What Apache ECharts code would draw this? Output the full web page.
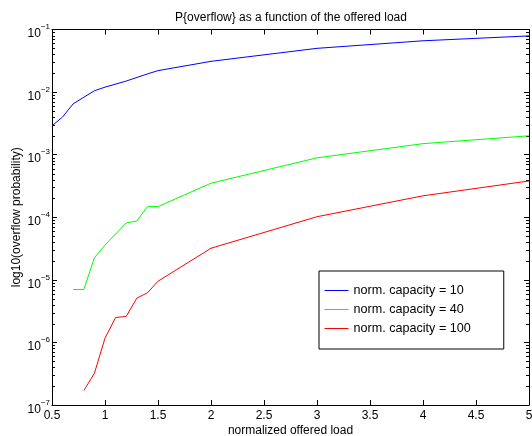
<!DOCTYPE html>
<html><head><meta charset="utf-8">
<script src="https://cdn.jsdelivr.net/npm/echarts@6/dist/echarts.min.js"></script>
<style>html,body{margin:0;padding:0;background:#fff}#c{width:532px;height:436px}</style>
</head><body><div id="c"></div>
<script>
// ---- data ----
const titleText = 'P{overflow} as a function of the offered load';
const xName = 'normalized offered load';
const yName = 'log10(overflow probability)';
const seriesNames = ['norm. capacity = 10', 'norm. capacity = 40', 'norm. capacity = 100'];

const load10 = [0.5, 0.6, 0.7, 0.9, 1.0, 1.2, 1.4, 1.5, 2, 3, 4, 5];
const prob10 = [2.9e-3, 4.0e-3, 6.5e-3, 1.05e-2, 1.2e-2, 1.5e-2, 1.95e-2, 2.2e-2, 3.1e-2, 5.0e-2, 6.6e-2, 7.9e-2];

const load40 = [0.7, 0.8, 0.9, 1.0, 1.2, 1.3, 1.4, 1.5, 2, 3, 4, 5];
const prob40 = [7.0e-6, 7.0e-6, 2.25e-5, 3.6e-5, 8.1e-5, 8.7e-5, 1.48e-4, 1.48e-4, 3.5e-4, 8.9e-4, 1.5e-3, 2.0e-3];

const load100 = [0.8, 0.9, 1.0, 1.1, 1.2, 1.3, 1.4, 1.5, 2, 3, 4, 5];
const prob100 = [1.7e-7, 3.2e-7, 1.17e-6, 2.5e-6, 2.6e-6, 5.1e-6, 6.2e-6, 9.5e-6, 3.2e-5, 1.02e-4, 2.2e-4, 3.8e-4];

const xMin = 0.5, xMax = 5, xStep = 0.5;
const yMin = 1e-7, yMax = 1e-1;
// minor tick positions of the log axis (mantissas within each decade)
const minorMantissas = [2, 3, 4, 5, 6, 7, 8, 9];
const minorDecades = [1e-7, 1e-6, 1e-5, 1e-4, 1e-3, 1e-2];

// ---- build ----
const colors = ['#0000ff', '#00ff00', '#ff0000'];
const FONT = '"Liberation Sans", Arial, Helvetica, sans-serif';
const pair = (xs, ys) => xs.map((x, i) => [x, ys[i]]);
const minorData = [];
minorDecades.forEach(d => minorMantissas.forEach(m => minorData.push([xMin, m * d])));

const supFmt = v => {
  const e = Math.round(Math.log10(v));
  return '{b|10}{s|' + (e < 0 ? '\u2212' + (-e) : e) + '}';
};

const chart = echarts.init(document.getElementById('c'), null, {renderer: 'canvas'});
const axisLineStyle = {color: '#000', width: 1};
chart.setOption({
  animation: false,
  backgroundColor: '#fff',
  title: {
    text: titleText, left: 286, top: 7, textAlign: 'center',
    textStyle: {fontFamily: FONT, fontSize: 12, fontWeight: 'normal', color: '#000'}
  },
  legend: {
    data: seriesNames, orient: 'vertical', left: 319, top: 271,
    padding: [13, 33, 14, 5], itemWidth: 24, itemHeight: 14, itemGap: 6,
    borderColor: '#000', borderWidth: 1, backgroundColor: '#fff',
    itemStyle: {opacity: 0}, lineStyle: {width: 1},
    textStyle: {fontFamily: FONT, fontSize: 12.6, color: '#000'}
  },
  grid: {left: 52, right: 3, top: 29.5, bottom: 31, containLabel: false, outerBoundsMode: 'none'},
  xAxis: [{
    type: 'value', min: xMin, max: xMax, interval: xStep, position: 'bottom',
    name: xName, nameLocation: 'middle', nameGap: 20, nameMoveOverlap: false,
    nameTextStyle: {fontFamily: FONT, fontSize: 12, color: '#000'},
    axisLine: {show: true, lineStyle: axisLineStyle},
    axisTick: {show: true, inside: true, length: 5, lineStyle: axisLineStyle},
    axisLabel: {fontFamily: FONT, fontSize: 12, color: '#000', margin: 5},
    splitLine: {show: false}
  }, {
    type: 'value', min: xMin, max: xMax, interval: xStep, position: 'top',
    axisLine: {show: true, lineStyle: axisLineStyle},
    axisTick: {show: true, inside: true, length: 5, lineStyle: axisLineStyle},
    axisLabel: {show: false}, splitLine: {show: false}
  }],
  yAxis: [{
    type: 'log', logBase: 10, min: yMin, max: yMax, position: 'left',
    name: yName, nameLocation: 'middle', nameGap: 29, nameRotate: 90, nameMoveOverlap: false,
    nameTextStyle: {fontFamily: FONT, fontSize: 12, color: '#000'},
    axisLine: {show: true, lineStyle: axisLineStyle},
    axisTick: {show: true, inside: true, length: 5, lineStyle: axisLineStyle},
    axisLabel: {
      formatter: supFmt, margin: 2, color: '#000', padding: [4, 0, 0, 0],
      rich: {
        b: {fontFamily: FONT, fontSize: 12, color: '#000', lineHeight: 12, padding: [5, 0, 0, 0]},
        s: {fontFamily: FONT, fontSize: 8, color: '#000', lineHeight: 8, padding: [0, 0, 9, 0]}
      }
    },
    splitLine: {show: false}, minorTick: {show: false}
  }, {
    type: 'log', logBase: 10, min: yMin, max: yMax, position: 'right',
    axisLine: {show: true, lineStyle: axisLineStyle},
    axisTick: {show: true, inside: true, length: 5, lineStyle: axisLineStyle},
    axisLabel: {show: false}, splitLine: {show: false}
  }],
  series: [
    {name: seriesNames[0], type: 'line', data: pair(load10, prob10), symbol: 'none',
     lineStyle: {color: colors[0], width: 1}, itemStyle: {color: colors[0]}},
    {name: seriesNames[1], type: 'line', data: pair(load40, prob40), symbol: 'none',
     lineStyle: {color: colors[1], width: 1}, itemStyle: {color: colors[1]}},
    {name: seriesNames[2], type: 'line', data: pair(load100, prob100), symbol: 'none',
     lineStyle: {color: colors[2], width: 1}, itemStyle: {color: colors[2]}},
    {name: 'minorTicks', type: 'custom', silent: true, data: minorData,
     encode: {x: 0, y: 1}, clip: false,
     renderItem: function (params, api) {
       const v = api.value(1);
       const l = api.coord([xMin, v]);
       const r = api.coord([xMax, v]);
       const y = Math.round(l[1]) + 0.5;
       return {type: 'group', children: [
         {type: 'line', shape: {x1: l[0], y1: y, x2: l[0] + 3, y2: y}, style: {stroke: '#000', lineWidth: 1}},
         {type: 'line', shape: {x1: r[0] - 3, y1: y, x2: r[0], y2: y}, style: {stroke: '#000', lineWidth: 1}}
       ]};
     }}
  ]
});
</script></body></html>
